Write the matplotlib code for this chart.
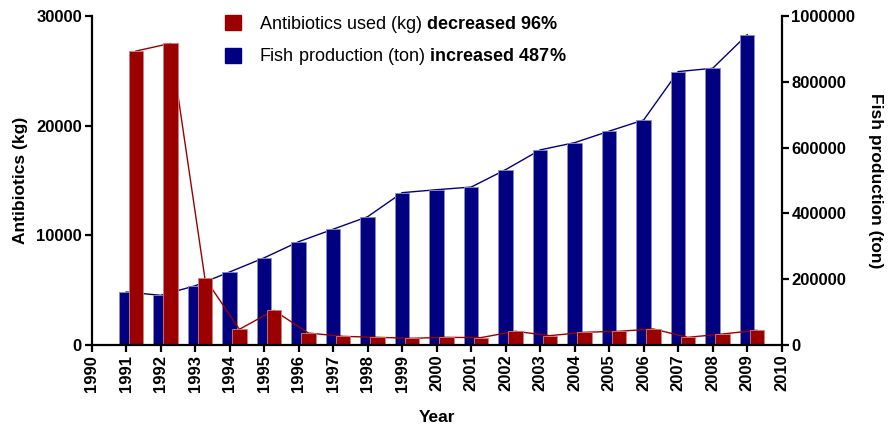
import matplotlib
matplotlib.use("Agg")
import matplotlib.pyplot as plt
from matplotlib.patches import Patch
import numpy as np

plt.rcParams['font.family'] = ['Liberation Sans', 'DejaVu Sans']
plt.rcParams['mathtext.fontset'] = 'custom'
plt.rcParams['mathtext.bf'] = 'Liberation Sans:bold'
plt.rcParams['mathtext.rm'] = 'Liberation Sans'

# data
years = np.arange(1991, 2010)
antibiotics_kg = [26800, 27500, 6100, 1430, 3160, 1090, 790, 700, 610, 700,
                  670, 1250, 850, 1160, 1250, 1460, 700, 1000, 1340]
fish_ton = [161000, 151000, 180000, 222000, 265000, 314000, 352000, 390000,
            463000, 472000, 480000, 533000, 593000, 615000, 650000, 684000,
            831000, 841000, 943000]
red = '#9b0000'
blue = '#000080'

fig = plt.figure(figsize=(8.92, 4.32), dpi=100)
ax = fig.add_axes([0.1028, 0.2014, 0.7735, 0.7616])
ax2 = ax.twinx()
ax.set_zorder(ax2.get_zorder() + 1)
ax.patch.set_visible(False)

w = 0.42
# fish production (right axis)
ax2.plot(years, fish_ton, color=blue, lw=1, zorder=1)
ax2.bar(years, fish_ton, width=w, color=blue, edgecolor='#8c8cc8', linewidth=0.6, zorder=2)
# antibiotics (left axis)
ax.plot(years + 0.28, antibiotics_kg, color=red, lw=1, zorder=1)
ax.bar(years + 0.28, antibiotics_kg, width=w, color=red, edgecolor='#d08080', linewidth=0.6, zorder=2)

ax.set_xlim(1990, 2010)
ax.set_ylim(0, 30000)
ax2.set_ylim(0, 1000000)
ax.set_xticks(range(1990, 2011))
ax.set_yticks([0, 10000, 20000, 30000])
ax2.set_yticks(range(0, 1000001, 200000))
ax2.ticklabel_format(axis='y', style='plain', useOffset=False)

for a in (ax, ax2):
    a.spines['top'].set_visible(False)
    for s in a.spines.values():
        s.set_linewidth(1.6)
    a.tick_params(direction='out', length=5, width=1.6, labelsize=12, pad=2)
ax.spines['right'].set_visible(False)
ax2.spines['left'].set_visible(False)
ax2.spines['bottom'].set_visible(False)

for lab in ax.get_xticklabels():
    lab.set_rotation(90)
    lab.set_fontweight('bold')
for lab in ax.get_yticklabels() + ax2.get_yticklabels():
    lab.set_fontweight('bold')

ax.set_xlabel('Year', fontsize=12.5, fontweight='bold', labelpad=13)
ax.set_ylabel('Antibiotics (kg)', fontsize=12.5, fontweight='bold', labelpad=6)
ax2.set_ylabel('Fish production (ton)', fontsize=12.5, fontweight='bold',
               rotation=270, labelpad=20)

handles = [Patch(color=red), Patch(color=blue)]
labels = [r'Antibiotics used (kg) $\mathbf{decreased\ 96\%}$',
          r'Fish production (ton) $\mathbf{increased\ 487\%}$']
ax.legend(handles, labels, loc='upper left', bbox_to_anchor=(0.17, 1.055),
          frameon=False, fontsize=13, handlelength=0.85, handleheight=0.9,
          handletextpad=1.0, labelspacing=0.62)

fig.savefig('out.png', dpi=100)
